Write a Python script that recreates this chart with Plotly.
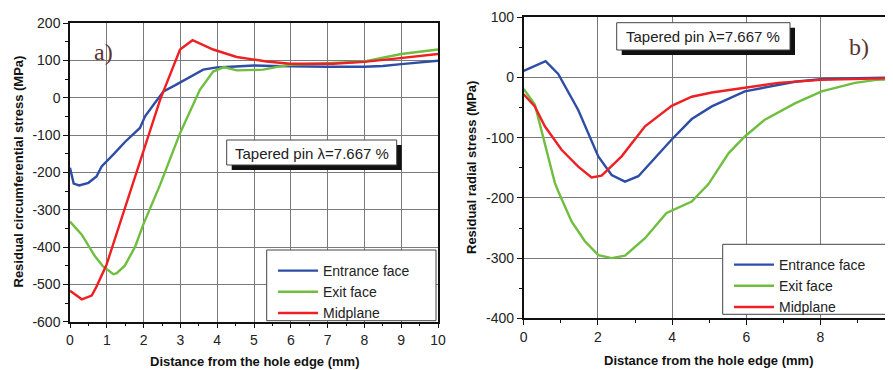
import plotly.graph_objects as go

# page body has an 8px margin: the figure is drawn 8px right and down of the window origin
OFF = 8
W, H = 893 - OFF, 370 - OFF

# ---------------- data ----------------
series_names = ["Entrance face", "Exit face", "Midplane"]
series_colors = ["#2e4da6", "#6fbe3f", "#ee2024"]

# Panel a) residual circumferential stress (MPa)
a_entr_x = [0, 0.1, 0.25, 0.5, 0.72, 0.86, 1.2, 1.5, 1.9, 2.04, 2.3, 2.54, 2.85, 3.13, 3.4, 3.62, 3.99, 4.5, 5.0, 5.5, 6, 7, 8, 8.5, 9, 9.5, 10]
a_entr_y = [-188, -230, -235, -228, -211, -184, -150, -118, -81, -50, -15, 17, 33, 48, 62, 75, 81, 84, 86, 85, 84, 83, 83, 85, 90, 95, 99]
a_exit_x = [0, 0.32, 0.68, 0.9, 1.18, 1.27, 1.49, 1.77, 1.99, 2.45, 2.99, 3.53, 3.89, 4.18, 4.53, 5.25, 5.6, 5.98, 7, 8, 9, 10]
a_exit_y = [-332, -367, -425, -452, -473, -470, -450, -399, -340, -233, -95, 21, 70, 82, 73, 75, 82, 88, 92, 97, 117, 129]
a_mid_x = [0, 0.32, 0.59, 0.72, 0.99, 1.72, 2.45, 2.99, 3.33, 3.89, 4.53, 5.34, 5.98, 7.15, 7.99, 8.97, 10]
a_mid_y = [-517, -540, -530, -506, -448, -229, -5, 129, 154, 129, 109, 97, 91, 91, 96, 106, 117]

# Panel b) residual radial stress (MPa)
b_entr_x = [0, 0.59, 0.93, 1.47, 2.01, 2.37, 2.73, 3.09, 3.99, 4.53, 5.07, 5.96, 7.31, 8, 9, 10]
b_entr_y = [11, 27, 6, -54, -131, -162, -173, -164, -103, -69, -48, -23, -7, -3, -1, 0]
b_exit_x = [0, 0.3, 0.84, 0.93, 1.29, 1.65, 2.01, 2.37, 2.73, 3.27, 3.85, 4.53, 4.98, 5.52, 5.96, 6.5, 7.31, 8.03, 8.93, 9.5, 10]
b_exit_y = [-19, -45, -175, -189, -239, -272, -295, -300, -296, -267, -225, -206, -177, -126, -98, -70, -43, -23, -9, -4, -3]
b_mid_x = [0, 0.3, 0.57, 1.02, 1.47, 1.83, 2.1, 2.64, 3.27, 3.99, 4.53, 5.07, 5.96, 6.86, 8, 9, 10]
b_mid_y = [-28, -48, -81, -120, -148, -166, -163, -131, -81, -47, -32, -25, -17, -9, -4, -2, -1]

a_y_ticks = [-600, -500, -400, -300, -200, -100, 0, 100, 200]
a_x_ticks = list(range(0, 11))
b_y_ticks = [-400, -300, -200, -100, 0, 100]
b_x_ticks = [0, 2, 4, 6, 8, 10]

annot_text = "Tapered pin λ=7.667 %"
x_title = "Distance from the hole edge (mm)"
a_y_title = "Residual circumferential stress (MPa)"
b_y_title = "Residual radial stress (MPa)"

# ---------------- figure ----------------
SANS = "Arial, Liberation Sans, sans-serif"
SERIF = "Times New Roman, Liberation Serif, serif"

def px(x):
    return (x - OFF) / W

def py(y):
    return 1 - (y - OFF) / H

fig = go.Figure()

a_sets = [(a_entr_x, a_entr_y), (a_exit_x, a_exit_y), (a_mid_x, a_mid_y)]
b_sets = [(b_entr_x, b_entr_y), (b_exit_x, b_exit_y), (b_mid_x, b_mid_y)]
for (xs, ys), name, col in zip(a_sets, series_names, series_colors):
    fig.add_trace(go.Scatter(x=xs, y=ys, mode="lines", name=name,
                             line=dict(color=col, width=2.4),
                             xaxis="x", yaxis="y", legend="legend"))
for (xs, ys), name, col in zip(b_sets, series_names, series_colors):
    fig.add_trace(go.Scatter(x=xs, y=ys, mode="lines", name=name,
                             line=dict(color=col, width=2.4),
                             xaxis="x2", yaxis="y2", legend="legend2"))

axis_common = dict(showline=True, linecolor="#111", linewidth=1.5, mirror=True,
                   showgrid=True, gridcolor="#7a7a7a", gridwidth=1, automargin=False,
                   zeroline=False, ticks="outside", ticklen=5, tickcolor="#111", tickwidth=1,
                   tickfont=dict(family=SANS, size=14, color="#222"))

def minor(d):
    return dict(dtick=d, ticklen=3, ticks="outside", tickcolor="#111", tickwidth=1, showgrid=False)

x2_left_px, x2_unit_px = 523.7, 37.1
x1_right = (893 - x2_left_px) / x2_unit_px

fig.update_layout(
    template="none",
    width=W, height=H,
    margin=dict(l=0, r=0, t=0, b=0, pad=0),
    paper_bgcolor="white", plot_bgcolor="white",
    showlegend=True,
    xaxis=dict(domain=[px(70), px(438)], range=[0, 10], tickvals=a_x_ticks,
               ticktext=[str(v) for v in a_x_ticks], minor=minor(0.5),
               anchor="y", **axis_common),
    yaxis=dict(domain=[py(321.7), py(23)], range=[-600, 200], tickvals=a_y_ticks,
               ticktext=[str(v) for v in a_y_ticks], minor=minor(50),
               anchor="x", **axis_common),
    xaxis2=dict(domain=[px(x2_left_px), 1.0], range=[0, x1_right], tickvals=b_x_ticks,
                ticktext=[str(v) for v in b_x_ticks], minor=minor(1),
                anchor="y2", **axis_common),
    yaxis2=dict(domain=[py(318.3), py(17.3)], range=[-400, 100], tickvals=b_y_ticks,
                ticktext=[str(v) for v in b_y_ticks], minor=minor(50),
                anchor="x2", **axis_common),
    legend=dict(x=px(273), y=py(255), xanchor="left", yanchor="top",
                bgcolor="rgba(0,0,0,0)", borderwidth=0, itemwidth=40,
                font=dict(family=SANS, size=14, color="#222"), tracegroupgap=0),
    legend2=dict(x=px(729), y=py(249), xanchor="left", yanchor="top",
                 bgcolor="rgba(0,0,0,0)", borderwidth=0, itemwidth=40,
                 font=dict(family=SANS, size=14, color="#222"), tracegroupgap=0),
)

shapes = []
# white patch behind "a)" label (hides grid there)
shapes.append(dict(type="rect", xref="paper", yref="paper", x0=px(71), x1=px(135), y0=py(75), y1=py(24),
                   fillcolor="white", line=dict(width=0), layer="between"))
# legend boxes
shapes.append(dict(type="rect", xref="paper", yref="paper", x0=px(266.7), x1=px(436), y0=py(320.7), y1=py(250),
                   fillcolor="white", line=dict(color="#444", width=1), layer="above"))
shapes.append(dict(type="rect", xref="paper", yref="paper", x0=px(722.7), x1=px(892.5), y0=py(314.3), y1=py(244.3),
                   fillcolor="white", line=dict(color="#444", width=1), layer="above"))
# annotation boxes with shadows
for (x0, x1, y0, y1) in [(226.7, 396.7, 140, 165), (616.7, 790, 22.7, 50)]:
    shapes.append(dict(type="rect", xref="paper", yref="paper", x0=px(x0 + 5), x1=px(x1 + 5), y0=py(y1 + 5), y1=py(y0 + 5),
                       fillcolor="#111", line=dict(width=0), layer="above"))
    shapes.append(dict(type="rect", xref="paper", yref="paper", x0=px(x0), x1=px(x1), y0=py(y1), y1=py(y0),
                       fillcolor="white", line=dict(color="#444", width=1), layer="above"))
fig.update_layout(shapes=shapes)

annots = [
    dict(text=annot_text, x=px(311.7), y=py(153), font=dict(family=SANS, size=15, color="#222")),
    dict(text=annot_text, x=px(703.4), y=py(36.5), font=dict(family=SANS, size=15, color="#222")),
    dict(text="a)", x=px(103.5), y=py(52), font=dict(family=SERIF, size=24, color="#5a3434")),
    dict(text="b)", x=px(859), y=py(46.5), font=dict(family=SERIF, size=24, color="#5a3434")),
    dict(text="<b>" + x_title + "</b>", x=px(254), y=py(361.5), font=dict(family=SANS, size=13, color="#111")),
    dict(text="<b>" + x_title + "</b>", x=px(708), y=py(360), font=dict(family=SANS, size=13, color="#111")),
    dict(text="<b>" + a_y_title + "</b>", x=px(18.5), y=py(172), textangle=-90, font=dict(family=SANS, size=13, color="#111")),
    dict(text="<b>" + b_y_title + "</b>", x=px(471), y=py(168), textangle=-90, font=dict(family=SANS, size=13, color="#111")),
]
for a in annots:
    a.update(xref="paper", yref="paper", showarrow=False, xanchor="center", yanchor="middle")
fig.update_layout(annotations=annots)

fig.write_html("out.html")
